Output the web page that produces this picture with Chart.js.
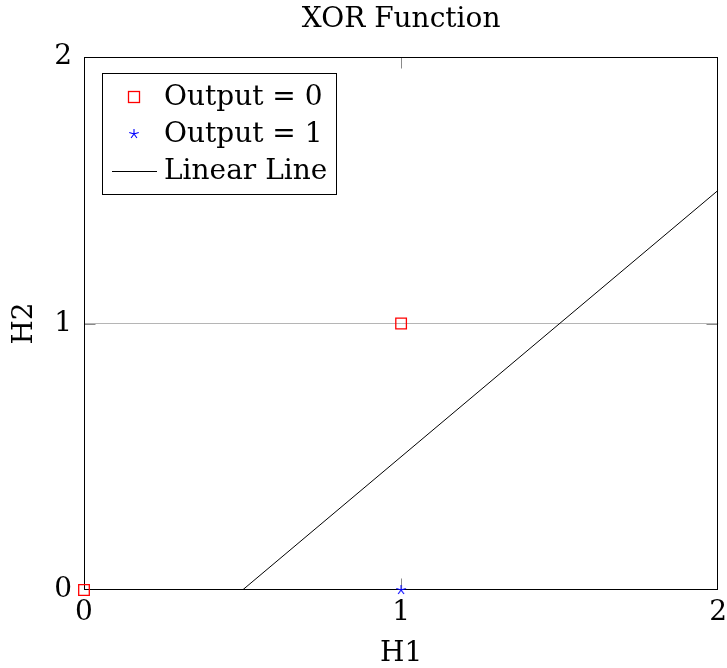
<!DOCTYPE html>
<html>
<head>
<meta charset="utf-8">
<title>XOR Function</title>
<script src="https://cdn.jsdelivr.net/npm/chart.js@4.4.1/dist/chart.umd.min.js"></script>
<style>
  html, body { margin: 0; padding: 0; background: #fff; }
  #wrap { width: 727px; height: 668px; }
</style>
</head>
<body>
<div id="wrap"><canvas id="xorChart" width="727" height="668"></canvas></div>
<script>
// data
const chartTitle = "XOR Function";
const xTitle = "H1";
const yTitle = "H2";
const axisTicks = [0, 1, 2];

const zeroLabel = "Output = 0";
const zeroH1 = [0, 1];
const zeroH2 = [0, 1];

const oneLabel = "Output = 1";
const oneH1 = [1];
const oneH2 = [0];

const lineLabel = "Linear Line";
const lineH1 = [0.5, 2];
const lineH2 = [0, 1.5];

const FONT = "'DejaVu Serif', 'Liberation Serif', serif";
const FSIZE = 28;

// five armed asterisk, like the pgfplots "star" mark
function makeStar(color, r) {
    const c = document.createElement("canvas");
    const s = Math.ceil(r * 2 + 2);
    c.width = s; c.height = s;
    const g = c.getContext("2d");
    g.strokeStyle = color;
    g.lineWidth = 1.1;
    g.beginPath();
    for (let i = 0; i < 5; i++) {
        const a = -Math.PI / 2 + i * 2 * Math.PI / 5;
        g.moveTo(s / 2, s / 2);
        g.lineTo(s / 2 + r * Math.cos(a), s / 2 + r * Math.sin(a));
    }
    g.stroke();
    return c;
}
const starMark = makeStar("#0000ff", 5);

function toPoints(xs, ys) {
    return xs.map((x, i) => ({ x: x, y: ys[i] }));
}

Chart.defaults.font.family = FONT;
Chart.defaults.font.size = FSIZE;
Chart.defaults.color = "#000";

// axis frame + inner tick marks, drawn under the marks
const framePlugin = {
    id: "frame",
    beforeDatasetsDraw(chart) {
        const { ctx, chartArea: a, scales } = chart;
        const L = Math.round(a.left) + 0.5, R = Math.round(a.right) - 0.5;
        const T = Math.round(a.top) + 0.5, B = Math.round(a.bottom) - 0.5;
        ctx.save();
        ctx.lineWidth = 1;
        ctx.strokeStyle = "#8a8a8a";
        const tl = 11;
        axisTicks.slice(1, -1).forEach(v => {
            const px = Math.round(scales.x.getPixelForValue(v)) + 0.5;
            const py = Math.round(scales.y.getPixelForValue(v)) + 0.5;
            ctx.beginPath();
            ctx.moveTo(px, B); ctx.lineTo(px, B - tl);
            ctx.moveTo(px, T); ctx.lineTo(px, T + tl);
            ctx.moveTo(L, py); ctx.lineTo(L + tl, py);
            ctx.moveTo(R, py); ctx.lineTo(R - tl, py);
            ctx.stroke();
        });
        ctx.strokeStyle = "#000";
        ctx.strokeRect(L, T, R - L, B - T);
        ctx.restore();
    }
};

// title centred over the plot, and the boxed legend inside it
const overlayPlugin = {
    id: "overlay",
    afterDraw(chart) {
        const { ctx, chartArea: a } = chart;
        ctx.save();
        ctx.font = FSIZE + "px " + FONT;
        ctx.fillStyle = "#000";
        ctx.textAlign = "center";
        ctx.textBaseline = "middle";
        ctx.fillText(chartTitle, (a.left + a.right) / 2, 20);

        // legend box
        const bx = 102.5, by = 73.5, bw = 234, bh = 121;
        ctx.fillStyle = "#fff";
        ctx.fillRect(bx, by, bw, bh);
        ctx.strokeStyle = "#000";
        ctx.lineWidth = 1;
        ctx.strokeRect(bx, by, bw, bh);

        const ds = chart.data.datasets;
        const rows = [97, 134, 171];
        const mx = 134, tx = 164;
        ctx.textAlign = "left";
        // Output = 0
        ctx.strokeStyle = ds[0].borderColor;
        ctx.lineWidth = ds[0].borderWidth;
        ctx.strokeRect(mx - 5.5, rows[0] - 5.5, 11, 11);
        // Output = 1
        ctx.drawImage(starMark, mx - starMark.width / 2, rows[1] - starMark.height / 2);
        // Linear Line
        ctx.strokeStyle = ds[2].borderColor;
        ctx.lineWidth = 1;
        ctx.beginPath();
        ctx.moveTo(112, rows[2] + 0.5);
        ctx.lineTo(157, rows[2] + 0.5);
        ctx.stroke();

        ctx.fillStyle = "#000";
        [ds[0].label, ds[1].label, ds[2].label].forEach((t, i) => {
            ctx.fillText(t, tx, rows[i] + 1);
        });
        ctx.restore();
    }
};

const ctx = document.getElementById("xorChart").getContext("2d");
const xorChart = new Chart(ctx, {
    type: "scatter",
    data: {
        datasets: [
            {
                label: zeroLabel,
                data: toPoints(zeroH1, zeroH2),
                pointStyle: "rect",
                pointRadius: 7.5,
                borderColor: "#ff0000",
                backgroundColor: "rgba(0,0,0,0)",
                borderWidth: 1.3,
                clip: false,
                order: 1
            },
            {
                label: oneLabel,
                data: toPoints(oneH1, oneH2),
                pointStyle: starMark,
                borderColor: "#0000ff",
                backgroundColor: "#0000ff",
                clip: false,
                order: 0
            },
            {
                label: lineLabel,
                data: toPoints(lineH1, lineH2),
                showLine: true,
                pointRadius: 0,
                borderColor: "#000000",
                borderWidth: 1,
                order: 2
            }
        ]
    },
    options: {
        responsive: false,
        animation: false,
        events: [],
        layout: { padding: { top: 57, right: 8, left: 0, bottom: 0 } },
        plugins: {
            legend: { display: false },
            title: { display: false },
            tooltip: { enabled: false }
        },
        scales: {
            x: {
                type: "linear",
                min: axisTicks[0],
                max: axisTicks[axisTicks.length - 1],
                afterBuildTicks(scale) { scale.ticks = axisTicks.map(v => ({ value: v })); },
                afterFit(scale) {
                    scale.height = 78;
                    scale.paddingLeft = 0;
                    scale.paddingRight = 0;
                },
                grid: { display: false, drawTicks: false },
                border: { display: false },
                ticks: { padding: 6, maxRotation: 0, autoSkip: false },
                title: { display: true, text: xTitle, padding: { top: 0, bottom: -3 } }
            },
            y: {
                type: "linear",
                min: axisTicks[0],
                max: axisTicks[axisTicks.length - 1],
                afterBuildTicks(scale) { scale.ticks = axisTicks.map(v => ({ value: v })); },
                afterFit(scale) {
                    scale.width = 84;
                    scale.paddingTop = 0;
                    scale.paddingBottom = 0;
                },
                grid: {
                    drawTicks: false,
                    lineWidth: 1,
                    color: c => (c.tick && c.tick.value === 1 ? "#b5b5b5" : "rgba(0,0,0,0)")
                },
                border: { display: false },
                ticks: { padding: 12, autoSkip: false },
                title: { display: true, text: yTitle, padding: { top: 8, bottom: 0 } }
            }
        }
    },
    plugins: [framePlugin, overlayPlugin]
});
</script>
</body>
</html>
